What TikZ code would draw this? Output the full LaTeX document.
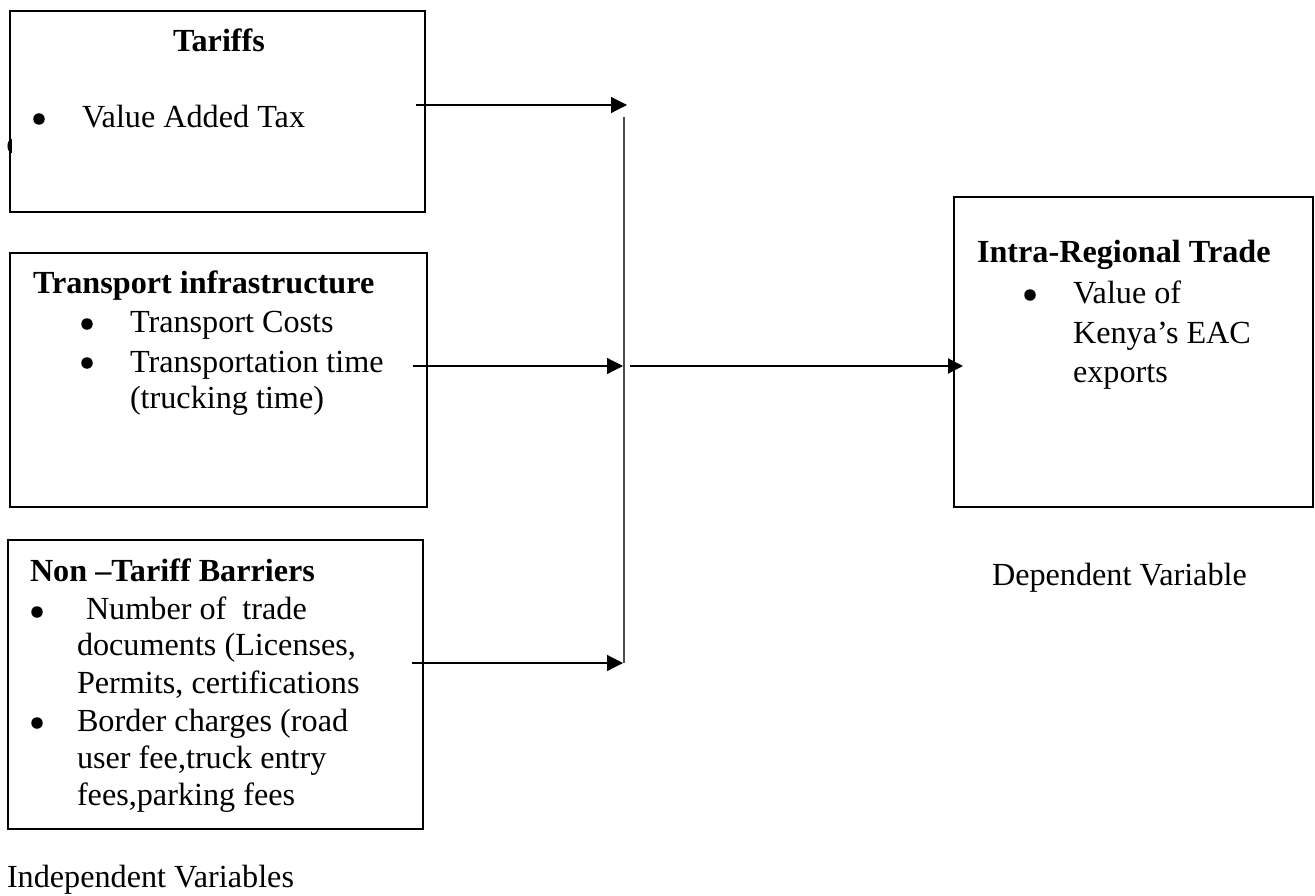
\documentclass[tikz,border=0pt]{standalone}
\usepackage{fontspec}
\setmainfont{Liberation Serif}
\usetikzlibrary{arrows.meta}
\begin{document}
\begin{tikzpicture}[x=1pt,y=-1pt,
  box/.style={draw=black,line width=2pt,rectangle,inner sep=0pt,outer sep=0pt,anchor=north west},
  txt/.style={inner sep=0pt,outer sep=0pt,anchor=base west,font=\fontsize{32.2pt}{37pt}\selectfont},
  ttl/.style={txt,font=\fontsize{32.2pt}{37pt}\selectfont\bfseries},
  bul/.style={circle,fill=black,inner sep=0pt,outer sep=0pt,minimum size=11.5pt},
  thinarrow/.style={line width=1.2pt,-{Triangle[length=16pt,width=16pt]}},
  thickarrow/.style={line width=2pt,-{Triangle[length=15pt,width=15pt]}},
  junction/.style={line width=1.3pt,draw=black!70}
]
\useasboundingbox (0,0) rectangle (1315,896);

% boxes
\node[box,minimum width=415pt,minimum height=201pt] (tariffs) at (10,11) {};
\node[box,minimum width=417pt,minimum height=254pt] (transport) at (10,253) {};
\node[box,minimum width=415pt,minimum height=289pt] (ntb) at (8,540) {};
\node[box,minimum width=359pt,minimum height=310pt] (trade) at (954,197) {};

% stray mark at left edge of first box
\fill (12,139) .. controls (6,139) and (6,153) .. (12,153) -- cycle;

% Tariffs box text
\node[ttl,anchor=base] (tT) at (219,52) {Tariffs};
\node[bul] (b1) at (39,119) {};
\node[txt] (t1) at (82,128) {Value Added Tax};

% Transport box text
\node[ttl] (tTr) at (33,293) {Transport infrastructure};
\node[bul] (b2) at (87,324) {};
\node[txt] (t2) at (130,332) {Transport Costs};
\node[bul] (b3) at (87,363) {};
\node[txt] (t3) at (130,372) {Transportation time};
\node[txt] (t4) at (130,408) {(trucking time)};

% NTB box text
\node[ttl] (tN) at (30,581) {Non –Tariff Barriers};
\node[bul] (b4) at (37,612) {};
\node[txt] (t5) at (86,619) {Number of~ trade};
\node[txt] (t6) at (77,655) {documents (Licenses,};
\node[txt] (t7) at (77,693) {Permits, certifications};
\node[bul] (b5) at (37,723) {};
\node[txt] (t8) at (77,731) {Border charges (road};
\node[txt] (t9) at (77,768) {user fee,truck entry};
\node[txt] (t10) at (77,805) {fees,parking fees};
\node[txt] (indep) at (7,887) {Independent Variables};

% Trade box text
\node[ttl] (tI) at (977,262) {Intra-Regional Trade};
\node[bul] (b6) at (1030,295) {};
\node[txt] (t11) at (1073,303) {Value of};
\node[txt] (t12) at (1073,343) {Kenya’s EAC};
\node[txt] (t13) at (1073,382) {exports};
\node[txt] (dep) at (992,585) {Dependent Variable};

% connector coordinates
\coordinate (s1) at (416,105);
\coordinate (j1) at (627,105);
\coordinate (s2) at (413,366);
\coordinate (j2) at (623,366);
\coordinate (s3) at (412,663);
\coordinate (j3) at (623,663);
\coordinate (vtop) at (624,117);
\coordinate (vbot) at (624,663);
\coordinate (r1) at (630,366);
\coordinate (r2) at (963,366);

\draw[junction] (vtop) -- (vbot);
\draw[thinarrow] (s1) -- (j1);
\draw[thinarrow] (s2) -- (j2);
\draw[thinarrow] (s3) -- (j3);
\draw[thickarrow] (r1) -- (r2);
\end{tikzpicture}
\end{document}
